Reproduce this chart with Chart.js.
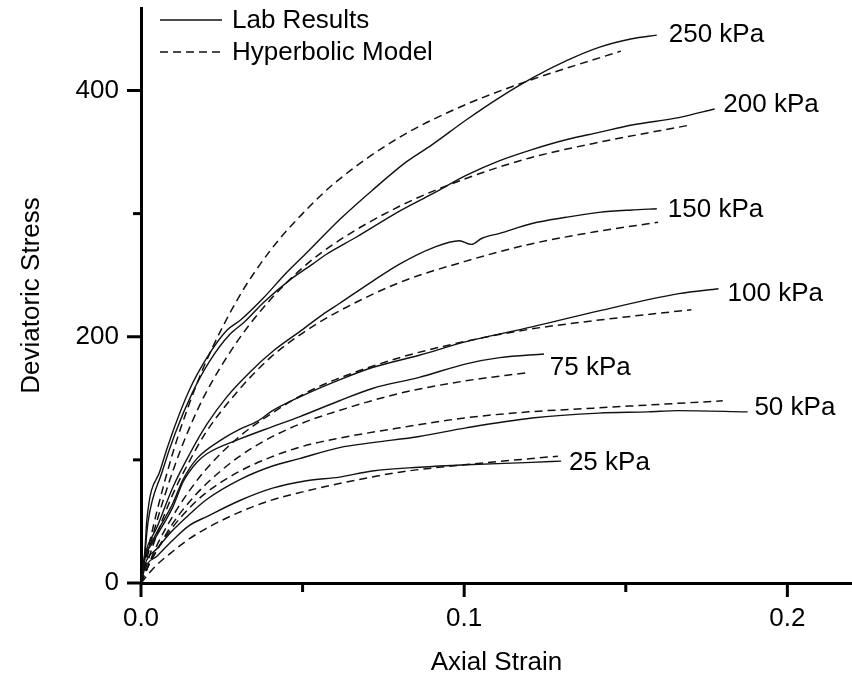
<!DOCTYPE html>
<html>
<head>
<meta charset="utf-8">
<script src="https://cdn.jsdelivr.net/npm/chart.js@4/dist/chart.umd.min.js"></script>
<style>
  html, body { margin: 0; padding: 0; background: #fff; }
  canvas { display: block; }
</style>
</head>
<body>
<canvas id="c" width="852" height="679"></canvas>
<script>
// lab results, [axial strain, deviatoric stress]
const lab250 = [[0,0],[0.0012,26],[0.0018,51],[0.006,92],[0.01,124],[0.015,157],[0.0204,183],[0.0265,205],[0.031,214],[0.0377,231],[0.045,252],[0.0512,268],[0.0614,295],[0.0716,319],[0.0821,342],[0.0901,356],[0.1006,376],[0.1108,394],[0.121,410],[0.1315,424],[0.1417,435],[0.1519,442],[0.1596,445]];
const lab200 = [[0,0],[0.0012,24],[0.0022,50],[0.0065,90],[0.0105,121],[0.0158,154],[0.0212,180],[0.0275,202],[0.032,212],[0.038,228],[0.046,246],[0.0531,259],[0.0574,267],[0.0667,281],[0.08,302],[0.0901,316],[0.1006,331],[0.111,343],[0.121,352],[0.1315,360],[0.1417,366],[0.1519,372],[0.1664,378],[0.1775,385]];
const lab150 = [[0,0],[0.0012,22],[0.0049,45],[0.0099,78],[0.0151,105],[0.0204,129],[0.0265,151],[0.0336,171],[0.0407,188],[0.049,204],[0.0562,218],[0.0614,227],[0.0716,245],[0.08,259],[0.0901,272],[0.0985,278],[0.1022,275],[0.1055,280],[0.111,284],[0.121,292],[0.1315,297],[0.1417,301],[0.1519,303],[0.1596,304]];
const lab100 = [[0,0],[0.0012,20],[0.0037,35],[0.0099,65],[0.013,84],[0.0173,101],[0.0253,117],[0.0306,125],[0.0358,131],[0.0407,140],[0.049,151],[0.0614,165],[0.0716,175],[0.0861,185],[0.1006,196],[0.121,208],[0.1417,221],[0.1664,235],[0.1787,239]];
const lab75 = [[0,0],[0.0012,20],[0.0037,33],[0.0099,62],[0.013,82],[0.0173,98],[0.0204,105],[0.0306,117],[0.0407,127],[0.049,135],[0.0614,148],[0.0716,158],[0.0861,167],[0.1006,178],[0.111,183],[0.1247,186]];
const lab50 = [[0,0],[0.0012,15],[0.005,28],[0.0099,43],[0.0151,56],[0.0204,68],[0.0306,84],[0.0407,95],[0.049,101],[0.0614,110],[0.0716,114],[0.0861,119],[0.1006,126],[0.121,134],[0.1417,138],[0.157,139],[0.166,140],[0.1877,139]];
const lab25 = [[0,0],[0.0012,12],[0.005,22],[0.0099,35],[0.0151,47],[0.0204,54],[0.0306,67],[0.0407,77],[0.0512,83],[0.0614,86],[0.0716,91],[0.0861,94],[0.1006,96],[0.121,98],[0.13,99]];

// hyperbolic model curves
const hyp250 = [[0,0],[0.0025,31],[0.005,59],[0.01,107],[0.015,146],[0.02,179],[0.03,231],[0.04,270],[0.05,300],[0.06,325],[0.08,362],[0.1,388],[0.12,408],[0.1485,432]];
const hyp200 = [[0,0],[0.0025,27],[0.005,51],[0.01,92],[0.015,126],[0.02,154],[0.03,197],[0.04,230],[0.05,256],[0.06,276],[0.08,306],[0.1,328],[0.12,345],[0.14,357],[0.17,372]];
const hyp150 = [[0,0],[0.0025,21],[0.005,40],[0.01,73],[0.015,99],[0.02,122],[0.03,156],[0.04,183],[0.05,203],[0.06,219],[0.08,244],[0.1,261],[0.12,275],[0.14,285],[0.16,293]];
const hyp100 = [[0,0],[0.0025,16],[0.005,31],[0.01,55],[0.015,75],[0.02,92],[0.03,118],[0.04,137],[0.05,153],[0.06,165],[0.08,183],[0.1,196],[0.12,206],[0.14,213],[0.1703,222]];
const hyp75 = [[0,0],[0.0025,15],[0.005,27],[0.01,49],[0.015,66],[0.02,80],[0.03,102],[0.04,118],[0.05,130],[0.06,139],[0.08,154],[0.1,164],[0.12,171]];
const hyp50 = [[0,0],[0.0025,15],[0.005,27],[0.01,46],[0.015,61],[0.02,73],[0.03,90],[0.04,102],[0.05,111],[0.06,117],[0.08,126],[0.1,134],[0.12,139],[0.14,142],[0.16,145],[0.18,148]];
const hyp25 = [[0,0],[0.0025,8],[0.005,15],[0.01,26],[0.015,36],[0.02,44],[0.03,57],[0.04,67],[0.05,74],[0.06,80],[0.08,90],[0.1,96],[0.129,103]];

const labSeries = [lab250, lab200, lab150, lab100, lab75, lab50, lab25];
const hypSeries = [hyp250, hyp200, hyp150, hyp100, hyp75, hyp50, hyp25];

// confining pressure labels and where they sit (strain, stress)
const curveLabels = ['250 kPa', '200 kPa', '150 kPa', '100 kPa', '75 kPa', '50 kPa', '25 kPa'];
const labelStrain = [0.1633, 0.1802, 0.163, 0.1815, 0.1265, 0.1898, 0.1324];
const labelStress = [445, 388, 303, 235, 175, 142, 98];

const legendNames = ['Lab Results', 'Hyperbolic Model'];

const xMajor = [0, 0.1, 0.2];
const xMinor = [0.05, 0.15];
const yMajor = [0, 200, 400];
const yMinor = [100, 300];

const FONT = "'Liberation Sans', Arial, sans-serif";
const DASH = [8, 5];

Chart.defaults.font.family = FONT;
Chart.defaults.font.size = 26;
Chart.defaults.color = '#000';

const toXY = arr => arr.map(p => ({x: p[0], y: p[1]}));

var datasets = [];
labSeries.forEach(function (s, i) {
  datasets.push({
    label: legendNames[0] + ' ' + curveLabels[i],
    data: toXY(s),
    borderColor: '#111',
    borderWidth: 1.4,
    pointRadius: 0,
    fill: false,
    cubicInterpolationMode: 'monotone'
  });
});
hypSeries.forEach(function (s, i) {
  datasets.push({
    label: legendNames[1] + ' ' + curveLabels[i],
    data: toXY(s),
    borderColor: '#111',
    borderWidth: 1.5,
    borderDash: DASH,
    pointRadius: 0,
    fill: false,
    cubicInterpolationMode: 'monotone'
  });
});

// outward tick marks, long for major and short for minor
const tickMarks = {
  id: 'tickMarks',
  afterDraw(chart) {
    const ctx = chart.ctx, a = chart.chartArea;
    const xs = chart.scales.x, ys = chart.scales.y;
    ctx.save();
    ctx.strokeStyle = '#000';
    ctx.lineWidth = 3;
    ctx.lineCap = 'butt';
    const xt = (v, len) => {
      const px = xs.getPixelForValue(v);
      ctx.beginPath(); ctx.moveTo(px, a.bottom); ctx.lineTo(px, a.bottom + len); ctx.stroke();
    };
    const yt = (v, len) => {
      const py = ys.getPixelForValue(v);
      ctx.beginPath(); ctx.moveTo(a.left, py); ctx.lineTo(a.left - len, py); ctx.stroke();
    };
    xMajor.forEach(v => xt(v, 14));
    xMinor.forEach(v => xt(v, 9));
    yMajor.forEach(v => yt(v, 14));
    yMinor.forEach(v => yt(v, 8));
    ctx.restore();
  }
};

// kPa labels at the end of each pair of curves
const curveText = {
  id: 'curveText',
  afterDatasetsDraw(chart) {
    const ctx = chart.ctx;
    const xs = chart.scales.x, ys = chart.scales.y;
    ctx.save();
    ctx.font = '26px ' + FONT;
    ctx.fillStyle = '#000';
    ctx.textAlign = 'left';
    ctx.textBaseline = 'middle';
    curveLabels.forEach(function (t, i) {
      ctx.fillText(t, xs.getPixelForValue(labelStrain[i]), ys.getPixelForValue(labelStress[i]));
    });
    ctx.restore();
  }
};

// legend in the top left corner
const lineKey = {
  id: 'lineKey',
  afterDraw(chart) {
    const ctx = chart.ctx, a = chart.chartArea;
    const x0 = a.left + 19, x1 = a.left + 81;
    ctx.save();
    ctx.strokeStyle = '#111';
    ctx.lineWidth = 1.4;
    ctx.font = '26px ' + FONT;
    ctx.fillStyle = '#000';
    ctx.textBaseline = 'middle';
    legendNames.forEach(function (name, i) {
      const y = a.top + 12 + i * 32;
      ctx.setLineDash(i === 0 ? [] : DASH);
      ctx.beginPath(); ctx.moveTo(x0, y); ctx.lineTo(x1, y); ctx.stroke();
      ctx.fillText(name, a.left + 91, y + 1);
    });
    ctx.restore();
  }
};

new Chart(document.getElementById('c'), {
  type: 'line',
  data: { datasets: datasets },
  options: {
    responsive: false,
    animation: false,
    devicePixelRatio: 1,
    layout: { padding: { top: 8, right: 0, bottom: 0, left: 0 } },
    plugins: {
      legend: { display: false },
      tooltip: { enabled: false }
    },
    scales: {
      x: {
        type: 'linear',
        min: 0,
        max: 0.22,
        afterFit: s => { s.height = 96; s.paddingLeft = 0; s.paddingRight = 0; },
        afterBuildTicks: s => { s.ticks = xMajor.map(v => ({value: v})); },
        grid: { drawOnChartArea: false, drawTicks: false },
        border: { display: true, width: 3, color: '#000' },
        ticks: { padding: 20, callback: v => v.toFixed(1), maxRotation: 0, autoSkip: false },
        title: { display: true, text: 'Axial Strain', padding: { top: 0, bottom: 1 } }
      },
      y: {
        type: 'linear',
        min: 0,
        max: 467,
        afterFit: s => { s.width = 141; s.paddingTop = 0; s.paddingBottom = 0; },
        afterBuildTicks: s => { s.ticks = yMajor.map(v => ({value: v})); },
        grid: { drawOnChartArea: false, drawTicks: false },
        border: { display: true, width: 3, color: '#000' },
        ticks: { padding: 22, autoSkip: false },
        title: { display: true, text: 'Deviatoric Stress', padding: { top: 16, bottom: 0 } }
      }
    }
  },
  plugins: [tickMarks, curveText, lineKey]
});
</script>
</body>
</html>
